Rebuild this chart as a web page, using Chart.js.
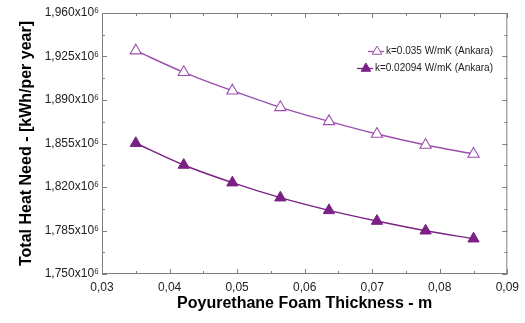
<!DOCTYPE html>
<html>
<head>
<meta charset="utf-8">
<script src="https://cdn.jsdelivr.net/npm/chart.js@4.4.1/dist/chart.umd.min.js"></script>
<style>
  html, body { margin: 0; padding: 0; background: #fff; }
  #wrap { width: 525px; height: 323px; }
</style>
</head>
<body>
<div id="wrap"><canvas id="chart" width="525" height="323"></canvas></div>
<script>
// foam thickness (m)
const thickness = [0.035, 0.0421, 0.0493, 0.0564, 0.0636, 0.0707, 0.0779, 0.085];
// total heat need, x10^6 kWh/per year
const heatK035 = [1929.7, 1912.3, 1897.5, 1884.1, 1872.8, 1862.6, 1853.8, 1846.6];
const heatK02094 = [1855.2, 1837.7, 1823.5, 1811.4, 1801.2, 1792.6, 1784.8, 1778.4];
const seriesLabels = ["k=0.035 W/mK (Ankara)", "k=0.02094 W/mK (Ankara)"];
const xTitle = "Poyurethane Foam Thickness - m";
const yTitle = "Total Heat Need - [kWh/per year]";

const FONT = "'Liberation Sans', Arial, sans-serif";
const lightPurple = "#9c4fae";
const darkPurple = "#7b2185";
const frameColor = "#7f7f7f";

function toPoints(xs, ys) {
  return xs.map((x, i) => ({ x: x, y: ys[i] }));
}

// inward ticks on all four sides + frame
const frameTicks = {
  id: "frameTicks",
  afterDraw(chart) {
    const ctx = chart.ctx;
    const a = chart.chartArea;
    const xs = chart.scales.x, ys = chart.scales.y;
    ctx.save();
    ctx.strokeStyle = frameColor;
    ctx.lineWidth = 1;
    ctx.strokeRect(a.left + 0.5, a.top + 0.5, a.right - a.left - 1, a.bottom - a.top - 1);
    ctx.beginPath();
    for (let v = 0.03; v <= 0.0901; v += 0.005) {
      const px = Math.round(xs.getPixelForValue(v)) + 0.5;
      const major = Math.abs(v * 100 - Math.round(v * 100)) < 1e-6;
      const len = major ? 5 : 3;
      ctx.moveTo(px, a.bottom); ctx.lineTo(px, a.bottom - len);
      ctx.moveTo(px, a.top); ctx.lineTo(px, a.top + len);
    }
    for (let v = 1750; v <= 1960.01; v += 17.5) {
      const py = Math.round(ys.getPixelForValue(v)) + 0.5;
      const major = Math.abs((v - 1750) / 35 - Math.round((v - 1750) / 35)) < 1e-6;
      const len = major ? 5 : 3;
      ctx.moveTo(a.left, py); ctx.lineTo(a.left + len, py);
      ctx.moveTo(a.right, py); ctx.lineTo(a.right - len, py);
    }
    ctx.stroke();
    ctx.restore();
  }
};

// legend inside the plot, right aligned
const innerLegend = {
  id: "innerLegend",
  afterDraw(chart) {
    const ctx = chart.ctx;
    const rightX = 493;
    const rows = [51.5, 68.5];
    ctx.save();
    ctx.font = "10px " + FONT;
    ctx.textBaseline = "middle";
    ctx.textAlign = "right";
    chart.data.datasets.forEach((ds, i) => {
      const y = rows[i];
      const w = ctx.measureText(ds.label).width;
      const textX = rightX - w;
      ctx.fillStyle = "#222";
      ctx.fillText(ds.label, rightX, y);
      ctx.strokeStyle = ds.borderColor;
      ctx.lineWidth = 1.3;
      ctx.beginPath();
      ctx.moveTo(textX - 18, y);
      ctx.lineTo(textX - 2, y);
      ctx.stroke();
      ctx.fillStyle = ds.pointBackgroundColor;
      ctx.strokeStyle = ds.pointBorderColor;
      ctx.lineWidth = 1;
      Chart.helpers.drawPoint(ctx, { pointStyle: "triangle", radius: 5.5, rotation: 0, borderWidth: 1 }, textX - 9, y);
    });
    ctx.restore();
  }
};

new Chart(document.getElementById("chart").getContext("2d"), {
  type: "line",
  data: {
    datasets: [
      {
        label: seriesLabels[0],
        data: toPoints(thickness, heatK035),
        borderColor: lightPurple,
        borderWidth: 1.4,
        pointStyle: "triangle",
        pointRadius: 6.5,
        pointBackgroundColor: "#fff",
        pointBorderColor: lightPurple,
        pointBorderWidth: 1.1,
        cubicInterpolationMode: "monotone",
        fill: false
      },
      {
        label: seriesLabels[1],
        data: toPoints(thickness, heatK02094),
        borderColor: darkPurple,
        borderWidth: 1.4,
        pointStyle: "triangle",
        pointRadius: 6.5,
        pointBackgroundColor: darkPurple,
        pointBorderColor: darkPurple,
        pointBorderWidth: 1,
        cubicInterpolationMode: "monotone",
        fill: false
      }
    ]
  },
  options: {
    responsive: false,
    animation: false,
    events: [],
    layout: { padding: { top: 13, right: 16, left: 0, bottom: 0 } },
    plugins: {
      legend: { display: false },
      tooltip: { enabled: false }
    },
    scales: {
      x: {
        type: "linear",
        min: 0.03,
        max: 0.09,
        grid: { display: false, drawTicks: false },
        border: { display: false },
        ticks: {
          stepSize: 0.01,
          padding: 6,
          color: "#222",
          font: { family: FONT, size: 12 },
          callback: v => v.toFixed(2).replace(".", ",")
        },
        title: {
          display: true,
          text: xTitle,
          color: "#000",
          font: { family: FONT, size: 16, weight: "bold" },
          padding: { top: 0, bottom: 10 }
        },
        afterFit: s => { s.height = 49; }
      },
      y: {
        min: 1750,
        max: 1960,
        grid: { display: false, drawTicks: false },
        border: { display: false },
        ticks: {
          stepSize: 35,
          padding: 3,
          color: "#222",
          font: { family: FONT, size: 12 },
          callback: v => v.toLocaleString("en-US") + "x10\u2076"
        },
        title: {
          display: true,
          text: yTitle,
          color: "#000",
          font: { family: FONT, size: 16, weight: "bold" },
          padding: { top: 17, bottom: 0 }
        },
        afterFit: s => { s.width = 102; }
      }
    }
  },
  plugins: [frameTicks, innerLegend]
});
</script>
</body>
</html>
